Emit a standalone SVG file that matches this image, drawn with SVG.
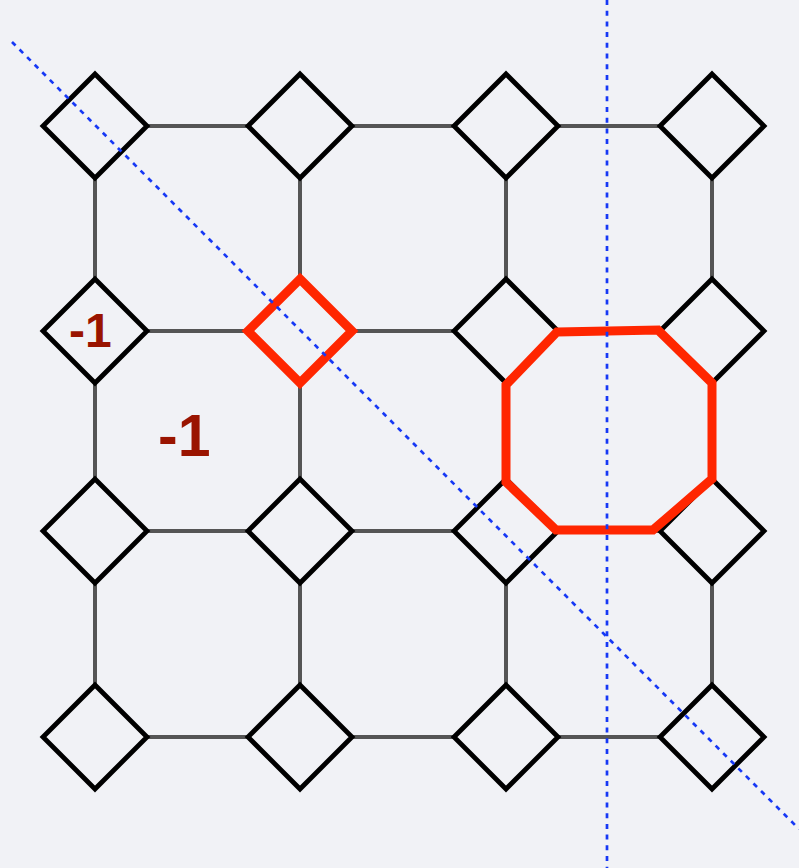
<svg xmlns="http://www.w3.org/2000/svg" width="799" height="868" viewBox="0 0 799 868">
<defs>
<style>
.bg{fill:#f1f2f6}
.d{fill:none;stroke:#000;stroke-width:4.8;stroke-linejoin:miter}
.c{stroke:#555;stroke-width:4;fill:none}
.hl{fill:none;stroke:#ff2600;stroke-width:9;stroke-linejoin:miter}
.axis{fill:none;stroke:#1638f5;stroke-width:2.7;stroke-dasharray:5 5.7}
.lbl{font-family:"Liberation Sans",Arial,sans-serif;font-weight:bold;fill:#9a1400}
</style>
<path id="dm" d="M0,-52 L52,0 L0,52 L-52,0 Z"/>
</defs>
<rect class="bg" x="0" y="0" width="799" height="868"/>
<g id="connectors">
<path class="c" d="M147,126H248M352,126H454M558,126H660M147,331H248M352,331H454M558,331H660M147,531H248M352,531H454M558,531H660M147,737H248M352,737H454M558,737H660"/>
<path class="c" d="M95,178V279M95,383V479M95,583V685M300,178V279M300,383V479M300,583V685M506,178V279M506,383V479M506,583V685M712,178V279M712,383V479M712,583V685"/>
</g>
<g id="n11"><use href="#dm" class="d" x="95" y="126"/></g>
<g id="n12"><use href="#dm" class="d" x="300" y="126"/></g>
<g id="n13"><use href="#dm" class="d" x="506" y="126"/></g>
<g id="n14"><use href="#dm" class="d" x="712" y="126"/></g>
<g id="n21"><use href="#dm" class="d" x="95" y="331"/><text class="lbl" x="69" y="347" font-size="48">-1</text></g>
<g id="n22"><use href="#dm" class="hl" x="300" y="331"/></g>
<g id="n23"><use href="#dm" class="d" x="506" y="331"/></g>
<g id="n24"><use href="#dm" class="d" x="712" y="331"/></g>
<g id="n31"><use href="#dm" class="d" x="95" y="531"/></g>
<g id="n32"><use href="#dm" class="d" x="300" y="531"/></g>
<g id="n33"><use href="#dm" class="d" x="506" y="531"/></g>
<g id="n34"><use href="#dm" class="d" x="712" y="531"/></g>
<g id="n41"><use href="#dm" class="d" x="95" y="737"/></g>
<g id="n42"><use href="#dm" class="d" x="300" y="737"/></g>
<g id="n43"><use href="#dm" class="d" x="506" y="737"/></g>
<g id="n44"><use href="#dm" class="d" x="712" y="737"/></g>
<g id="plaquette-label"><text class="lbl" x="158" y="456" font-size="59">-1</text></g>
<g id="octagon"><path class="hl" d="M557,332 L658,330 L712,383 L712,479 L653,530 L556,530 L506,482 L506,385 Z"/></g>
<g id="axes">
<line class="axis" x1="607" y1="0" x2="607" y2="868"/>
<line class="axis" x1="12" y1="42" x2="799" y2="829"/>
</g>
</svg>
